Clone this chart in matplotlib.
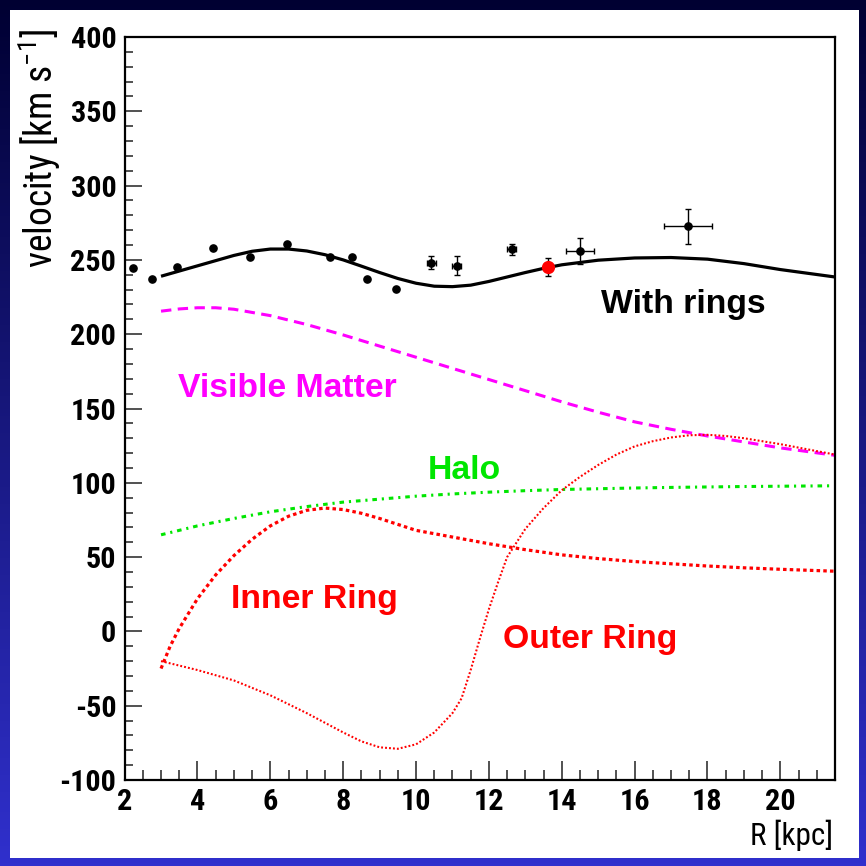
import matplotlib
matplotlib.use("Agg")
import matplotlib.pyplot as plt
from matplotlib import font_manager
from matplotlib.patches import Rectangle
from matplotlib.ticker import MultipleLocator
import numpy as np
import os

plt.rcParams["axes.unicode_minus"] = False


def register_narrow_fonts():
    """Register narrow/condensed faces that may be installed but not cached."""
    try:
        files = font_manager.findSystemFonts()
    except Exception:
        files = []
    for f in files:
        base = os.path.basename(f).lower()
        if "narrow" in base or "condensed" in base:
            try:
                font_manager.fontManager.addfont(f)
            except Exception:
                pass


def pick_family(*names):
    for name in names:
        try:
            font_manager.findfont(font_manager.FontProperties(family=name),
                                  fallback_to_default=False)
            return name
        except Exception:
            continue
    return None


register_narrow_fonts()
SANS = pick_family("Liberation Sans", "DejaVu Sans") or "DejaVu Sans"
NARROW = pick_family("Liberation Sans Narrow", "Arial Narrow",
                     "DejaVu Sans Condensed", "Roboto Condensed",
                     "Open Sans Condensed")
HAVE_NARROW = NARROW is not None
if not HAVE_NARROW:
    NARROW = SANS

# ---- rotation curve data -------------------------------------------------
x_ticks = [2, 4, 6, 8, 10, 12, 14, 16, 18, 20]
y_ticks = [-100, -50, 0, 50, 100, 150, 200, 250, 300, 350, 400]

# total model including the rings
r_total = [3, 3.5, 4, 4.5, 5, 5.5, 6, 6.5, 7, 7.5, 8, 8.5, 9, 9.5, 10, 10.5,
           11, 11.5, 12, 12.5, 13, 13.5, 14, 15, 16, 17, 18, 19, 20, 21.5]
v_total = [239, 242.5, 246, 249.5, 253, 255.8, 257.3, 257.3, 256, 253.5, 250,
           245.8, 241.5, 237.5, 234.3, 232.3, 232, 233, 235.5, 238.5, 241.5,
           244.3, 246.7, 249.8, 251.3, 251.6, 250.5, 247.5, 243.5, 238.5]

# visible matter (disc + bulge)
r_visible = [3, 3.5, 4, 4.5, 5, 6, 7, 8, 9, 10, 11, 12, 13, 14, 15, 16, 17,
             18, 19, 20, 21.5]
v_visible = [215.5, 217, 217.8, 217.8, 216.8, 212.5, 206.5, 199.5, 192,
             184.5, 177, 169.5, 162, 154.5, 147.5, 141, 136, 131.5, 127.5,
             123.5, 118.5]

# dark matter halo
r_halo = [3, 4, 5, 6, 7, 8, 9, 10, 11, 12, 13, 14, 15, 16, 17, 18, 19, 20,
          21.5]
v_halo = [65, 71, 76, 80.5, 84, 87, 89, 91, 92.5, 93.7, 94.7, 95.5, 96, 96.5,
          96.9, 97.2, 97.5, 97.7, 98]

# inner ring
r_inner = [3, 3.25, 3.5, 4, 4.5, 5, 5.5, 6, 6.5, 7, 7.5, 8, 8.5, 9, 9.5, 10,
           11, 12, 13, 14, 15, 16, 17, 18, 19, 20, 21.5]
v_inner = [-25, -10, 2, 22, 38, 51, 62, 71, 77.5, 81.5, 83, 82, 79.5, 76, 72,
           68, 63.5, 59, 55, 51.5, 49, 47, 45.5, 44, 42.8, 41.8, 40.5]

# outer ring
r_outer = [3, 4, 5, 6, 7, 8, 8.5, 9, 9.5, 10, 10.5, 11, 11.25, 11.5, 11.75,
           12, 12.25, 12.5, 13, 13.5, 14, 14.5, 15, 15.5, 16, 16.5, 17, 17.5,
           18, 18.5, 19, 20, 21.5]
v_outer = [-20, -26, -33, -43, -55, -68, -74, -78, -79, -76, -68, -55, -45,
           -26, -5, 15, 33, 50, 69, 83, 95, 104, 112, 119, 124.5, 128, 130.5,
           132, 132.3, 131.5, 130, 126, 119]

# measured velocities without visible error bars
r_meas = [2.24, 2.74, 3.44, 4.43, 5.44, 6.47, 7.65, 8.24, 8.65, 9.45]
v_meas = [244.7, 237.1, 245.2, 257.8, 252.2, 260.7, 252.2, 252.2, 237.1, 230.2]

# measured velocities with errors
r_err = [10.42, 11.12, 12.63, 14.50, 17.47]
v_err = [248.0, 246.0, 257.0, 256.0, 272.5]
r_err_lo = [0.12, 0.12, 0.12, 0.39, 0.66]
v_err_lo = [4.3, 6.4, 3.9, 8.5, 11.5]

# the Sun
r_sun = [13.62]
v_sun = [245.0]
r_sun_err = [0.1]
v_sun_err = [6.0]

# ---- figure ----------------------------------------------------------------
W = 866.0
fig = plt.figure(figsize=(8.66, 8.66), dpi=100)

# dark blue frame with a vertical gradient
bg = fig.add_axes([0, 0, 1, 1], zorder=-10)
top_col = np.array([0, 0, 50]) / 255.0
bot_col = np.array([48, 48, 205]) / 255.0
t = np.linspace(0, 1, 256)[:, None, None]
grad = top_col * (1 - t) + bot_col * t
bg.imshow(grad, aspect="auto", extent=[0, 1, 0, 1], origin="upper")
bg.add_patch(Rectangle((10 / W, 8 / W), 849 / W, 848 / W,
                       transform=bg.transAxes, facecolor="white",
                       edgecolor="none"))
bg.set_xlim(0, 1)
bg.set_ylim(0, 1)
bg.axis("off")

ax = fig.add_axes([124.6 / W, 1 - 780 / W, (835 - 124.6) / W, (780 - 37) / W])
ax.set_xlim(2, 21.5)
ax.set_ylim(-100, 400)

# curves
ax.plot(r_total, v_total, color="black", lw=2.3, solid_capstyle="butt")
ax.plot(r_visible, v_visible, color="#ff00ff", lw=2.2,
        linestyle=(0, (3.4, 2.1)), dash_capstyle="butt")
ax.plot(r_halo, v_halo, color="#00e600", lw=2.2,
        linestyle=(0, (1.5, 1.6, 0.7, 1.6)), dash_capstyle="butt")
ax.plot(r_inner, v_inner, color="#ff0000", lw=2.3,
        linestyle=(0, (1.1, 1.0)), dash_capstyle="butt")
ax.plot(r_outer, v_outer, color="#ff0000", lw=1.5,
        linestyle=(0, (0.9, 1.0)), dash_capstyle="butt")

# measurements
ax.plot(r_meas, v_meas, "o", color="black", ms=5.2, zorder=5)
ax.errorbar(r_err, v_err, xerr=r_err_lo, yerr=v_err_lo, fmt="o",
            color="black", ms=5.2, elinewidth=1.0, capsize=2.5,
            capthick=1.0, zorder=5)
ax.errorbar(r_sun, v_sun, xerr=r_sun_err, yerr=v_sun_err, fmt="o",
            color="#ff0000", ecolor="black", ms=8.5, elinewidth=1.0,
            capsize=2.5, capthick=1.0, zorder=6)

# curve labels
lab_kw = dict(fontsize=24.3, fontweight="bold", family=SANS,
              ha="left", va="baseline")
ax.text(15.07, 214.1, "With rings", color="black", **lab_kw)
ax.text(3.47, 157.5, "Visible Matter", color="#ff00ff", **lab_kw)
ax.text(10.32, 102.4, "Halo", color="#00e600", **lab_kw)
ax.text(4.93, 15.5, "Inner Ring", color="#ff0000", **lab_kw)
ax.text(12.39, -11.4, "Outer Ring", color="#ff0000", **lab_kw)

# axes styling
tick_size = 21.8 if HAVE_NARROW else 19.5
ax.set_xticks(x_ticks)
ax.set_yticks(y_ticks)
ax.xaxis.set_minor_locator(MultipleLocator(0.5))
ax.yaxis.set_minor_locator(MultipleLocator(10))
ax.tick_params(which="both", direction="in", top=False, right=False,
               color="#222222", width=1.1)
ax.tick_params(axis="x", which="major", length=14, pad=6)
ax.tick_params(axis="x", which="minor", length=7)
ax.tick_params(axis="y", which="major", length=12, pad=6)
ax.tick_params(axis="y", which="minor", length=5.5)
for lab in ax.get_xticklabels() + ax.get_yticklabels():
    lab.set_fontfamily(NARROW)
    lab.set_fontweight("bold")
    lab.set_fontsize(tick_size)
for sp in ax.spines.values():
    sp.set_linewidth(1.6)
    sp.set_color("black")

# axis titles
ylab_size = 27 if HAVE_NARROW else 23
xlab_size = 22.5 if HAVE_NARROW else 20
fig.text(40 / W, 1 - 29 / W, r"velocity [km s$^{\mathregular{-1}}$]",
         rotation=90, ha="center", va="top", fontsize=ylab_size,
         family=NARROW)
fig.text(833 / W, 1 - 820 / W, "R [kpc]", ha="right", va="top",
         fontsize=xlab_size, family=NARROW)

fig.savefig("out.png", dpi=100)
